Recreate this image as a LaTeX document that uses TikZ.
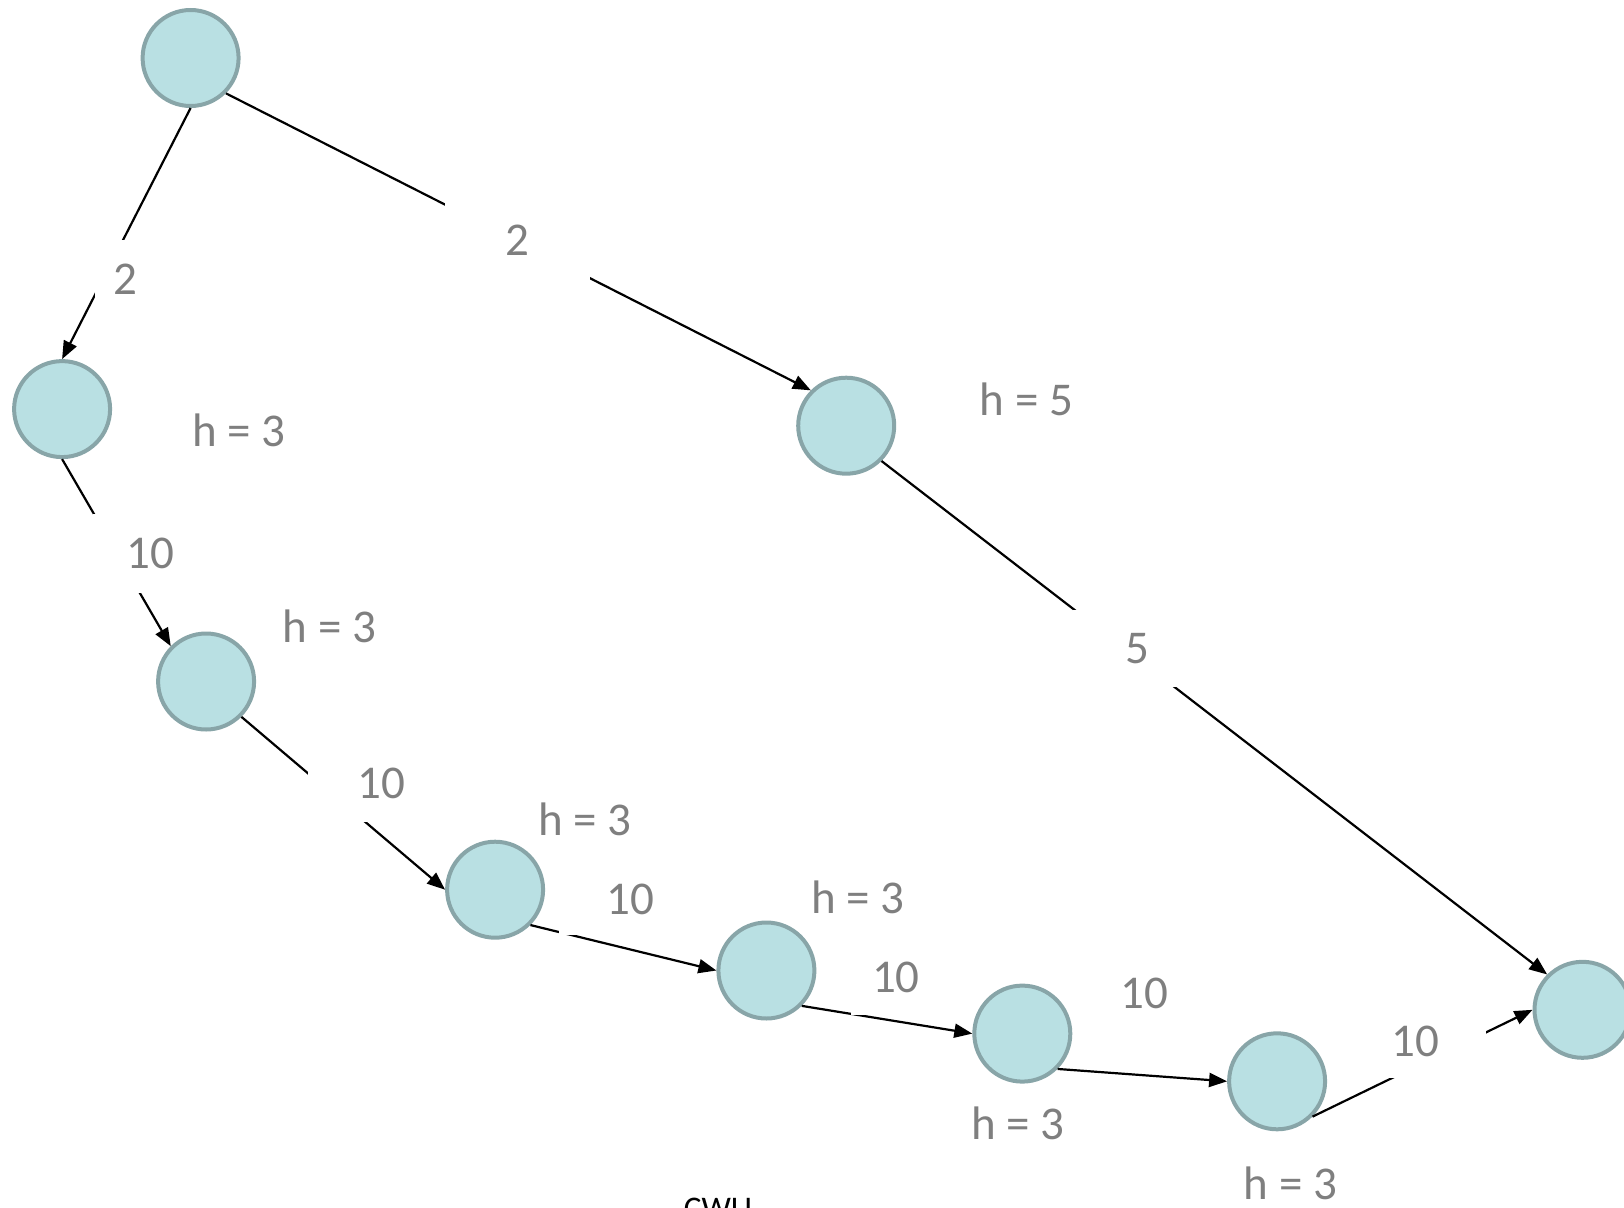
\documentclass[tikz,border=0pt]{standalone}
\usepackage{fontspec}
\setmainfont{Carlito}
\usepackage{xcolor}
\usepackage{tikz}
\usetikzlibrary{arrows.meta}
\definecolor{statefill}{RGB}{185,224,227}
\definecolor{stateline}{RGB}{136,165,168}
\definecolor{labelgray}{RGB}{127,127,127}

\begin{document}
\begin{tikzpicture}[
    x=1pt, y=-1pt,
    state/.style={circle, draw=stateline, fill=statefill, line width=4pt,
                  minimum size=96pt, inner sep=0pt},
    arrow/.style={-{Triangle[length=18pt, width=14pt]}, line width=2.2pt},
    cost/.style={fill=white, inner sep=0pt, text=labelgray,
                 font=\fontsize{47}{56}\selectfont},
    heur/.style={inner sep=0pt, text=labelgray,
                 font=\fontsize{47}{56}\selectfont}
]
\useasboundingbox (0,0) rectangle (1624,1207);

% states
\node[state] (root) at (190.6,58.0)  {};
\node[state] (l1)   at (62.1,409.1)  {};
\node[state] (l2)   at (206.1,681.5) {};
\node[state] (l3)   at (495.1,889.7) {};
\node[state] (l4)   at (766.4,970.5) {};
\node[state] (l5)   at (1022.3,1033.6) {};
\node[state] (l6)   at (1277.1,1081.3) {};
\node[state] (goal) at (1582.5,1009.8) {};
\node[state] (r1)   at (846.2,425.7) {};

% edges
\draw[arrow] (root.south)      -- (l1.north);
\draw[arrow] (root.south east) -- (r1.north west);
\draw[arrow] (l1.south)        -- (l2.north west);
\draw[arrow] (l2.south east)   -- (l3.west);
\draw[arrow] (l3.south east)   -- (l4.west);
\draw[arrow] (l4.south east)   -- (l5.west);
\draw[arrow] (l5.south east)   -- (l6.west);
\draw[arrow] (l6.south east)   -- (goal.west);
\draw[arrow] (r1.south east)   -- (goal.north west);

% edge costs
\node[cost, minimum width=60pt,  minimum height=79pt] (c1) at (125.3,279.6) {2};
\node[cost, minimum width=145pt, minimum height=79pt] (c2) at (517.9,240.3) {2};
\node[cost, minimum width=114pt, minimum height=79pt] (c3) at (150.2,553.0) {10};
\node[cost, minimum width=147pt, minimum height=77pt] (c4) at (381.1,783.0) {10};
\node[cost, minimum width=143pt, minimum height=72pt] (c5) at (630.7,899.0) {10};
\node[cost, minimum width=89pt,  minimum height=75pt] (c6) at (895.9,977.7) {10};
\node[cost] (c7) at (1144.4,993.2) {10};
\node[cost, minimum width=141pt, minimum height=75pt] (c8) at (1415.8,1040.9) {10};
\node[cost, minimum width=128pt, minimum height=77pt] (c9) at (1137.2,648.4) {5};

% heuristics
\node[heur] (h1) at (239.2,430.8)   {h = 3};
\node[heur] (h2) at (1026.4,399.8)  {h = 5};
\node[heur] (h3) at (329.4,626.6)   {h = 3};
\node[heur] (h4) at (585.2,819.2)   {h = 3};
\node[heur] (h5) at (857.6,896.9)   {h = 3};
\node[heur] (h6) at (1018.1,1123.7) {h = 3};
\node[heur] (h7) at (1290.5,1183.8) {h = 3};

\node[anchor=base, inner sep=0pt, font=\fontsize{33}{40}\selectfont] (cwu) at (718,1219) {CWU};
\end{tikzpicture}
\end{document}
